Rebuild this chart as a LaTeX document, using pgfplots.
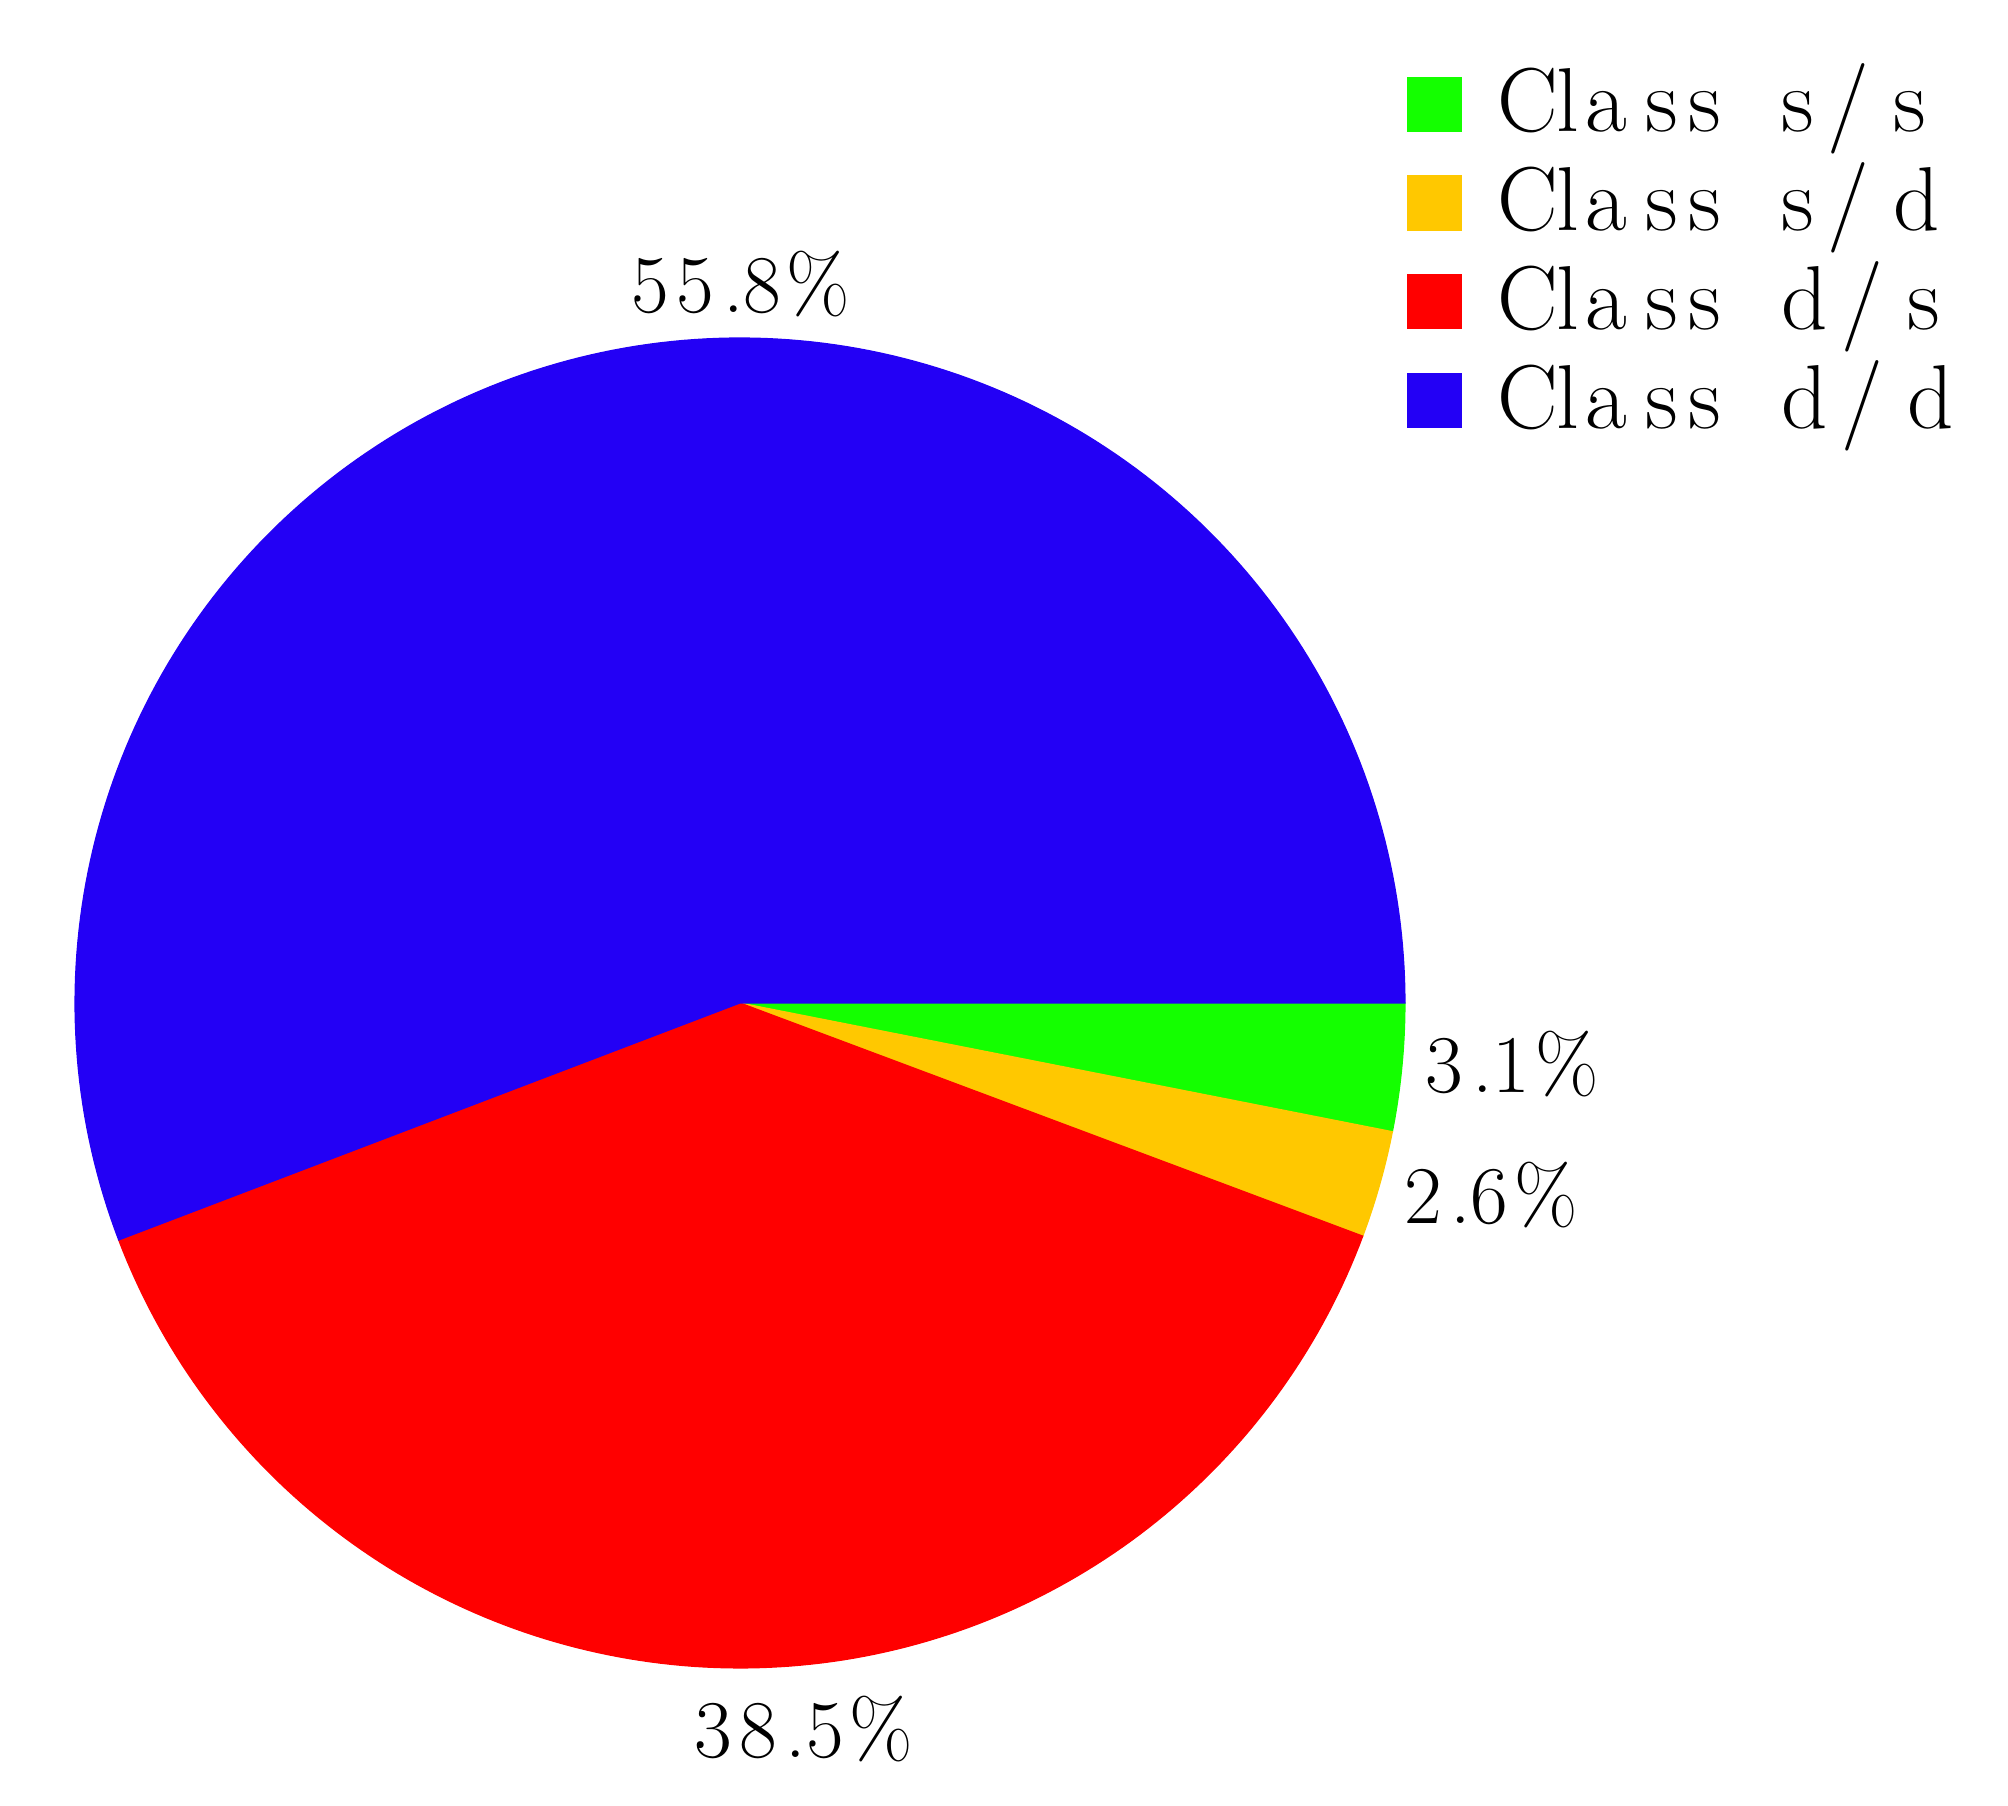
\documentclass[border=0pt]{standalone}
\usepackage{pgfplots}
\pgfplotsset{compat=1.18}
\definecolor{cgreen}{RGB}{20,255,0}
\definecolor{cyellow}{RGB}{255,200,0}
\definecolor{cred}{RGB}{255,0,0}
\definecolor{cblue}{RGB}{35,0,245}
% shares in percent
\def\pSS{3.1}
\def\pSD{2.6}
\def\pDS{38.5}
\def\pDD{55.8}
\pgfmathsetmacro{\aA}{-3.6*\pSS}
\pgfmathsetmacro{\aB}{\aA-3.6*\pSD}
\pgfmathsetmacro{\aC}{\aB-3.6*\pDS}
\pgfmathsetmacro{\aD}{\aC-3.6*\pDD}
% spacing helpers mimicking the wide glyph spacing of the original
\newcommand{\ClsW}{C\kern-0.4pt l\kern1.8pt a\kern4.4pt s\kern2.8pt s\hspace{15pt}}
\newcommand{\slK}{\kern3.4pt/\kern6pt}
\newcommand{\ddK}{\kern1.8pt}
\newcommand{\dpK}{\kern2.2pt}
\newcommand{\pcK}{\kern1.4pt\%}
\begin{document}
\begin{tikzpicture}
\begin{axis}[
  scale only axis, width=502pt, height=451.5pt,
  xmin=-1.1128, xmax=1.9068, ymin=-1.2075, ymax=1.5083,
  axis lines=none, ticks=none, clip=false,
  legend style={at={(axis cs:0.9835,1.4256)}, anchor=north west, draw=none, fill=none,
    font=\fontsize{22.7}{27}\selectfont, row sep=6.2pt, column sep=8.75pt,
    nodes={inner sep=0pt}},
  legend cell align=left,
  legend image code/.code={\fill[#1] (0pt,-7.6pt) rectangle (13.5pt,5.9pt);},
]
\path (rel axis cs:0,0) rectangle (rel axis cs:1,1);
\addplot[fill=cgreen, draw=cgreen, line width=0.3pt, domain=\aA:0, samples=20] ({cos(x)},{sin(x)}) -- (axis cs:0,0) -- cycle;
\addlegendentry{\ClsW s\slK s}
\addplot[fill=cyellow, draw=cyellow, line width=0.3pt, domain=\aB:\aA, samples=20] ({cos(x)},{sin(x)}) -- (axis cs:0,0) -- cycle;
\addlegendentry{\ClsW s\slK d}
\addplot[fill=cred, draw=cred, line width=0.3pt, domain=\aC:\aB, samples=150] ({cos(x)},{sin(x)}) -- (axis cs:0,0) -- cycle;
\addlegendentry{\ClsW d\slK s}
\addplot[fill=cblue, draw=cblue, line width=0.3pt, domain=\aD:\aC, samples=200] ({cos(x)},{sin(x)}) -- (axis cs:0,0) -- cycle;
\addlegendentry{\ClsW d\slK d}
\begin{scope}[every node/.style={anchor=base, inner sep=0pt, font=\fontsize{20.5}{24}\selectfont}]
\node at (axis cs:0.0015,1.0376) {5\ddK5\dpK.8\pcK};
\node at (axis cs:0.096,-1.134) {3\ddK8\dpK.5\pcK};
\node at (axis cs:1.1617,-0.134) {3\dpK.1\pcK};
\node at (axis cs:1.129,-0.332) {2\dpK.6\pcK};
\end{scope}
\end{axis}
\end{tikzpicture}
\end{document}
